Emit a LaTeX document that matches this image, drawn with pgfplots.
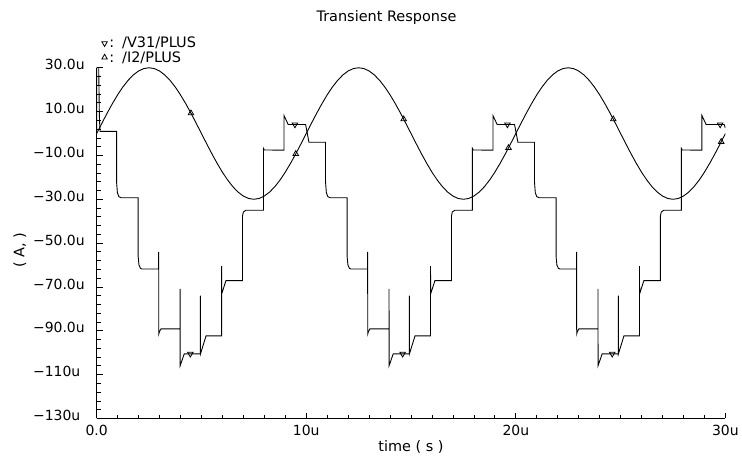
\documentclass[border=0pt]{standalone}
\usepackage{fontspec}
\setmainfont{DejaVu Sans}
\usepackage{pgfplots}
\pgfplotsset{compat=1.18}
\begin{document}
\begin{tikzpicture}
\path (0,0) rectangle (742bp,459bp);
\begin{axis}[
  at={(97bp,39bp)}, anchor=south west,
  scale only axis, width=631bp, height=352bp,
  xmin=0, xmax=30, ymin=-130, ymax=30,
  axis lines=left, axis line style={-, line width=1bp, black},
  tick align=inside,
  xtick={0,10,20,30}, xticklabels={0.0,10u,20u,30u},
  minor x tick num=9,
  ytick={-130,-110,-90,-70,-50,-30,-10,10,30},
  yticklabels={−130u,−110u,−90.0u,−70.0u,−50.0u,−30.0u,−10.0u,\phantom{−}10.0u,\phantom{−}30.0u},
  minor y tick num=4,
  major tick length=6bp, minor tick length=4bp,
  tick style={black, line width=0.8bp},
  ticklabel style={font=\fontsize{14bp}{16bp}\selectfont},
  yticklabel style={anchor=west, inner sep=0pt, xshift=-64bp, yshift=3bp},
  xticklabel style={yshift=-3bp},
  every axis title shift=0pt,
  title={Transient Response},
  title style={at={(axis description cs:0.461,1.148)}, anchor=center, yshift=-2bp, font=\fontsize{14.5bp}{16bp}\selectfont},
  xlabel={time ( s )},
  xlabel style={at={(axis description cs:0.5,-0.08)}, anchor=center, font=\fontsize{14.5bp}{16bp}\selectfont},
  ylabel={( A, )},
  ylabel style={at={(axis description cs:-0.122,0.48)}, anchor=center, font=\fontsize{14.5bp}{16bp}\selectfont},
  legend style={draw=none, fill=none, at={(axis description cs:0.0,1.0)}, anchor=south west,
    xshift=5bp, yshift=2bp,
    font=\fontsize{14.5bp}{16bp}\selectfont, inner sep=0pt, row sep=-2bp},
  legend cell align=left,
  legend image code/.code={\draw[#1] plot coordinates {(0bp,0bp)};},
]
% /V31/PLUS
\addplot[black, line width=0.9bp, forget plot] coordinates {
(0,2) (0.01,90) (0.13,8) (0.16,1.0) (0.95,1.0)
(0.95,-22) (0.99,-27) (1.06,-28.8) (1.17,-29.3) (1.98,-29.3)
(1.98,-56) (2.02,-60) (2.09,-61.5) (2.16,-61.8) (2.96,-61.8)
(2.96,-54) (2.965,-91.4) (3.0,-90.3) (3.07,-89.1) (3.98,-89.1)
(3.98,-70.9) (3.985,-105.9) (4.18,-100.5) (4.95,-100.5)
(4.95,-74) (4.955,-100.5) (5.22,-92.3) (5.96,-92.3)
(5.96,-60.5) (5.965,-73.2) (6.17,-67.1) (6.96,-67.1)
(6.96,-37.6) (7.0,-35.8) (7.12,-35) (7.96,-35)
(7.96,-6.8) (8.0,-7.5) (8.94,-7.6)
(8.94,8.2) (9.14,4.1) (9.97,4.1)
(10.13,-4.0) (10.92,-4.0)
(10.92,-22) (10.96,-27) (11.03,-28.8) (11.14,-29.3) (11.95,-29.3)
(11.95,-56) (11.99,-60) (12.06,-61.5) (12.13,-61.8) (12.93,-61.8)
(12.93,-54) (12.935,-91.4) (12.97,-90.3) (13.04,-89.1) (13.95,-89.1)
(13.95,-70.9) (13.955,-105.9) (14.15,-100.5) (14.92,-100.5)
(14.92,-74) (14.925,-100.5) (15.19,-92.3) (15.93,-92.3)
(15.93,-60.5) (15.935,-73.2) (16.14,-67.1) (16.93,-67.1)
(16.93,-37.6) (16.97,-35.8) (17.09,-35) (17.93,-35)
(17.93,-6.8) (17.97,-7.5) (18.91,-7.6)
(18.91,8.2) (19.11,4.1) (19.94,4.1)
(20.10,-4.0) (20.89,-4.0)
(20.89,-22) (20.93,-27) (21.00,-28.8) (21.11,-29.3) (21.92,-29.3)
(21.92,-56) (21.96,-60) (22.03,-61.5) (22.10,-61.8) (22.90,-61.8)
(22.90,-54) (22.905,-91.4) (22.94,-90.3) (23.01,-89.1) (23.92,-89.1)
(23.92,-70.9) (23.925,-105.9) (24.12,-100.5) (24.89,-100.5)
(24.89,-74) (24.895,-100.5) (25.16,-92.3) (25.90,-92.3)
(25.90,-60.5) (25.905,-73.2) (26.11,-67.1) (26.90,-67.1)
(26.90,-37.6) (26.94,-35.8) (27.06,-35) (27.90,-35)
(27.90,-6.8) (27.94,-7.5) (28.88,-7.6)
(28.88,8.2) (29.08,4.1) (29.94,4.1) (30,2.5)
};
% /I2/PLUS
\addplot[black, line width=0.9bp, forget plot] coordinates {
(0,0) (0.25,4.693) (0.5,9.271) (0.75,13.620) (1,17.634) (1.25,21.213) (1.5,24.271) (1.75,26.730) (2,28.532) (2.25,29.631)
(2.5,30) (2.75,29.631) (3,28.532) (3.25,26.730) (3.5,24.271) (3.75,21.213) (4,17.634) (4.25,13.620) (4.5,9.271) (4.75,4.693)
(5,0) (5.25,-4.693) (5.5,-9.271) (5.75,-13.620) (6,-17.634) (6.25,-21.213) (6.5,-24.271) (6.75,-26.730) (7,-28.532) (7.25,-29.631)
(7.5,-30) (7.75,-29.631) (8,-28.532) (8.25,-26.730) (8.5,-24.271) (8.75,-21.213) (9,-17.634) (9.25,-13.620) (9.5,-9.271) (9.75,-4.693)
(10,0) (10.25,4.693) (10.5,9.271) (10.75,13.620) (11,17.634) (11.25,21.213) (11.5,24.271) (11.75,26.730) (12,28.532) (12.25,29.631)
(12.5,30) (12.75,29.631) (13,28.532) (13.25,26.730) (13.5,24.271) (13.75,21.213) (14,17.634) (14.25,13.620) (14.5,9.271) (14.75,4.693)
(15,0) (15.25,-4.693) (15.5,-9.271) (15.75,-13.620) (16,-17.634) (16.25,-21.213) (16.5,-24.271) (16.75,-26.730) (17,-28.532) (17.25,-29.631)
(17.5,-30) (17.75,-29.631) (18,-28.532) (18.25,-26.730) (18.5,-24.271) (18.75,-21.213) (19,-17.634) (19.25,-13.620) (19.5,-9.271) (19.75,-4.693)
(20,0) (20.25,4.693) (20.5,9.271) (20.75,13.620) (21,17.634) (21.25,21.213) (21.5,24.271) (21.75,26.730) (22,28.532) (22.25,29.631)
(22.5,30) (22.75,29.631) (23,28.532) (23.25,26.730) (23.5,24.271) (23.75,21.213) (24,17.634) (24.25,13.620) (24.5,9.271) (24.75,4.693)
(25,0) (25.25,-4.693) (25.5,-9.271) (25.75,-13.620) (26,-17.634) (26.25,-21.213) (26.5,-24.271) (26.75,-26.730) (27,-28.532) (27.25,-29.631)
(27.5,-30) (27.75,-29.631) (28,-28.532) (28.25,-26.730) (28.5,-24.271) (28.75,-21.213) (29,-17.634) (29.25,-13.620) (29.5,-9.271) (29.75,-4.693)
(30,0)
};
% markers
\addplot[black, only marks, mark=triangle, mark size=3.2bp, mark options={rotate=180, line width=0.8bp}] coordinates {
(4.47,-100.5) (9.46,4.1) (14.6,-100.5) (19.6,4.1) (24.6,-100.5) (29.75,4.1)
};
\addlegendentry{:\hspace{8bp}/V31/PLUS}
\addplot[black, only marks, mark=triangle, mark size=3.2bp, mark options={line width=0.8bp}] coordinates {
(4.5,9.271) (9.5,-9.271) (14.65,6.54) (19.65,-6.54) (24.65,6.54) (29.8,-3.76)
};
\addlegendentry{:\hspace{8bp}/I2/PLUS}
\end{axis}
\end{tikzpicture}
\end{document}
